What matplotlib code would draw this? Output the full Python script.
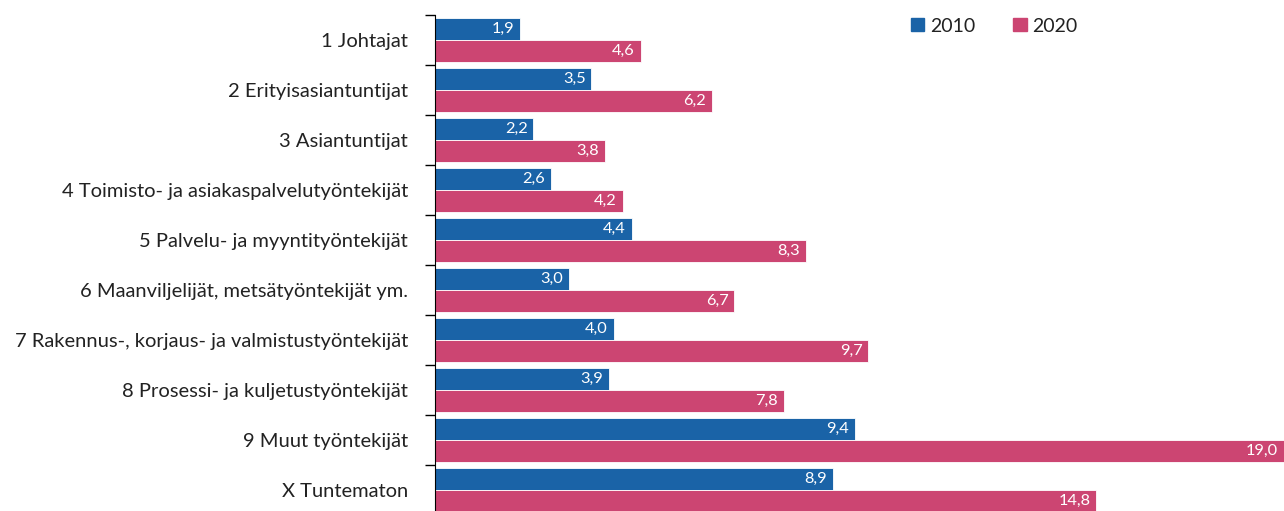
import matplotlib.pyplot as plt
from matplotlib.patches import Patch
import numpy as np

plt.rcParams['font.family'] = ['Lato', 'DejaVu Sans']

categories = [
    "1 Johtajat",
    "2 Erityisasiantuntijat",
    "3 Asiantuntijat",
    "4 Toimisto- ja asiakaspalvelutyöntekijät",
    "5 Palvelu- ja myyntityöntekijät",
    "6 Maanviljelijät, metsätyöntekijät ym.",
    "7 Rakennus-, korjaus- ja valmistustyöntekijät",
    "8 Prosessi- ja kuljetustyöntekijät",
    "9 Muut työntekijät",
    "X Tuntematon",
]
values_2010 = [1.9, 3.5, 2.2, 2.6, 4.4, 3.0, 4.0, 3.9, 9.4, 8.9]
values_2020 = [4.6, 6.2, 3.8, 4.2, 8.3, 6.7, 9.7, 7.8, 19.0, 14.8]

blue = "#1a63a7"
pink = "#cc4572"

fig = plt.figure(figsize=(12.84, 5.11), dpi=100)
ax = fig.add_axes([435 / 1284, -4 / 511, 1 - 435 / 1284, 500 / 511])

n = len(categories)
y = np.arange(n)
h = 0.434
b1 = ax.barh(y - h / 2, values_2010, height=h, color=blue, edgecolor="white", linewidth=0.6)
b2 = ax.barh(y + h / 2, values_2020, height=h, color=pink, edgecolor="white", linewidth=0.6)

for bars, vals in ((b1, values_2010), (b2, values_2020)):
    for bar, v in zip(bars, vals):
        ax.text(v - 0.13, bar.get_y() + bar.get_height() / 2,
                f"{v:.1f}".replace(".", ","), ha="right", va="center",
                color="white", fontsize=11.8)

ax.set_xlim(0, 19.0)
ax.set_ylim(n - 0.5, -0.5)
ax.set_xticks([])
ax.set_yticks(y)
ax.set_yticklabels(categories, fontsize=14.5, color="#222222")
ax.set_yticks(np.arange(n + 1) - 0.5, minor=True)
ax.tick_params(axis="y", which="major", length=0, pad=19.5)
ax.tick_params(axis="y", which="minor", length=7, width=1, color="black")
for side in ("top", "right", "bottom"):
    ax.spines[side].set_visible(False)
ax.spines["left"].set_color("black")

handles = [Patch(color=blue, label="2010"), Patch(color=pink, label="2020")]
fig.legend(handles=handles, loc="center left", bbox_to_anchor=(893 / 1284, 1 - 26 / 511),
           ncol=2, frameon=False, fontsize=14, handlelength=0.7, handleheight=0.7,
           handletextpad=0.3, columnspacing=1.95, labelcolor="#222222")

plt.savefig("out.png", dpi=100)
